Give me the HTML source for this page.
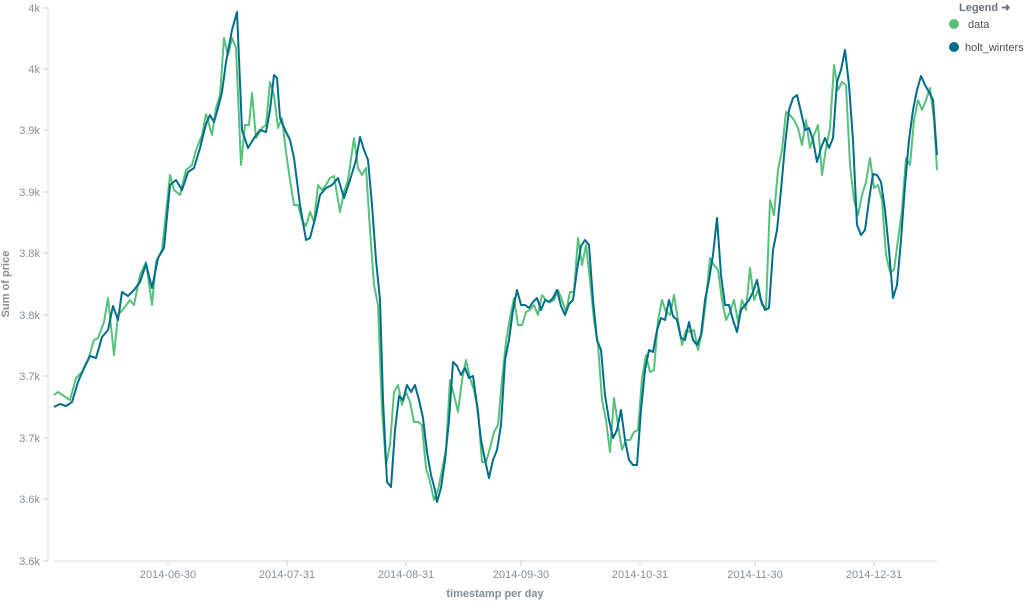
<!DOCTYPE html>
<html><head><meta charset="utf-8"><style>
body{margin:0;background:#fff;font-family:"Liberation Sans",sans-serif;}
svg{display:block}
text{font-family:"Liberation Sans",sans-serif;fill:#848e96;font-size:11px}
</style></head><body>
<svg width="1034" height="610" viewBox="0 0 1034 610">
<line x1="48" y1="8" x2="48" y2="561" stroke="#ddd"/>
<line x1="53" y1="561" x2="937" y2="561" stroke="#ddd"/>
<g stroke="#ccc">
<line x1="43" y1="8" x2="48" y2="8"/><line x1="43" y1="69" x2="48" y2="69"/><line x1="43" y1="130" x2="48" y2="130"/><line x1="43" y1="192" x2="48" y2="192"/><line x1="43" y1="253" x2="48" y2="253"/><line x1="43" y1="315" x2="48" y2="315"/><line x1="43" y1="376" x2="48" y2="376"/><line x1="43" y1="438" x2="48" y2="438"/><line x1="43" y1="499" x2="48" y2="499"/><line x1="43" y1="561" x2="48" y2="561"/>
<line x1="168" y1="561" x2="168" y2="566"/><line x1="287" y1="561" x2="287" y2="566"/><line x1="406" y1="561" x2="406" y2="566"/><line x1="521" y1="561" x2="521" y2="566"/><line x1="640" y1="561" x2="640" y2="566"/><line x1="755" y1="561" x2="755" y2="566"/><line x1="874" y1="561" x2="874" y2="566"/>
</g>
<g text-anchor="end">
<text x="40" y="12">4k</text><text x="40" y="73">4k</text><text x="40" y="134">3.9k</text><text x="40" y="196">3.9k</text><text x="40" y="257">3.8k</text><text x="40" y="319">3.8k</text><text x="40" y="380">3.7k</text><text x="40" y="442">3.7k</text><text x="40" y="503">3.6k</text><text x="40" y="565">3.6k</text>
</g>
<g text-anchor="middle">
<text x="168" y="578">2014-06-30</text><text x="287" y="578">2014-07-31</text><text x="406" y="578">2014-08-31</text><text x="521" y="578">2014-09-30</text><text x="640" y="578">2014-10-31</text><text x="755" y="578">2014-11-30</text><text x="874" y="578">2014-12-31</text>
<text x="495" y="597" font-weight="bold" font-size="12">timestamp per day</text>
<text transform="translate(9,284) rotate(-90)" font-weight="bold" font-size="12">Sum of price</text>
</g>
<polyline fill="none" stroke="#57c17b" stroke-width="2" stroke-linejoin="round" points="54,395 58,392 64,396 70,400 76,378 82,372 88,360 94,340 98,338 104,322 108,298 114,355 118,315 124,308 130,300 134,305 140,275 146,262 152,305 156,262 162,250 170,175 174,190 180,195 186,170 192,165 196,150 202,135 206,114 212,135 216,108 220,95 224,38 228,55 232,38 236,48 241,165 245,125 249,125 252,93 256,138 262,128 266,125 270,82 274,95 278,128 282,118 286,152 290,180 294,205 298,205 302,220 306,226 310,212 314,222 318,185 322,190 326,185 330,178 334,176 340,212 344,192 348,180 354,138 358,168 362,175 366,168 370,230 374,285 378,305 382,410 386,465 390,445 394,392 398,385 402,405 406,392 410,402 414,422 418,422 422,425 426,468 430,482 434,500 438,490 442,470 446,450 450,380 454,395 458,412 462,380 466,360 470,378 474,390 478,410 482,462 486,462 490,448 494,432 498,425 502,380 506,342 510,318 514,298 518,325 522,325 526,312 530,310 534,305 538,315 542,295 546,300 550,302 554,300 558,290 562,300 566,312 570,292 574,292 578,238 582,265 586,245 590,280 594,320 598,345 602,400 606,420 610,452 614,398 618,425 622,450 626,440 630,440 634,432 638,430 642,378 646,355 650,372 654,370 658,320 662,300 666,312 670,315 674,295 678,320 682,345 686,330 690,332 694,330 698,350 702,332 706,300 710,258 714,265 718,270 722,300 726,320 730,312 734,300 738,322 742,300 746,310 750,268 754,300 758,290 762,305 766,308 770,200 774,215 778,170 782,150 786,112 790,115 794,120 798,128 802,145 806,120 810,148 814,135 818,125 822,175 826,148 830,128 834,65 838,90 842,82 846,85 850,165 854,200 858,215 862,195 866,182 870,158 874,188 878,185 882,200 886,255 890,272 894,270 898,240 902,210 906,158 910,165 914,120 918,100 922,110 926,100 930,88 934,120 937,170"/>
<polyline fill="none" stroke="#006e8a" stroke-width="2" stroke-linejoin="round" points="54,407 60,404 66,406 72,402 78,382 84,368 90,356 96,358 102,337 108,330 113,306 118,320 122,292 128,296 134,290 140,282 146,264 152,288 158,258 164,248 170,185 176,180 182,190 188,172 194,168 200,148 206,124 210,115 214,122 218,108 222,92 226,62 232,30 237,12 242,130 248,148 254,138 260,130 266,132 270,110 274,75 277,78 280,118 286,132 290,140 294,158 300,205 306,240 310,238 316,215 320,195 326,188 332,185 338,178 344,198 350,180 356,160 360,137 364,150 368,160 372,205 376,260 380,300 383,400 387,482 391,487 395,430 399,396 403,400 407,385 411,392 415,385 419,400 423,418 427,452 431,475 435,490 437,502 441,488 445,460 449,420 453,362 457,366 461,375 465,368 469,378 473,376 477,405 481,440 485,460 489,478 493,460 497,450 501,425 505,360 509,340 513,310 517,290 521,305 525,305 529,308 533,302 537,298 541,310 545,300 549,302 553,298 557,290 561,306 565,315 569,304 573,300 577,270 581,246 585,240 589,245 593,300 597,340 601,350 605,395 609,420 613,438 617,430 621,410 625,440 629,460 633,465 637,465 641,410 645,370 649,350 653,352 657,330 661,318 665,320 669,300 673,316 677,320 681,338 685,340 689,322 693,340 697,345 701,335 705,300 709,280 713,255 717,218 721,275 725,305 729,305 733,320 737,332 741,310 745,305 749,300 753,292 757,280 761,300 765,310 769,308 773,250 777,230 781,190 785,145 789,110 793,98 797,95 801,112 805,130 809,128 813,140 817,162 821,148 825,138 829,148 833,138 837,82 841,70 845,50 849,85 853,140 857,225 861,235 865,230 869,200 873,174 877,175 881,182 885,210 889,250 893,298 897,285 901,240 905,185 909,140 913,110 917,90 921,76 925,85 929,92 933,100 937,155"/>
<text x="959" y="11" font-weight="bold" font-size="11" style="fill:#6b737b">Legend ➜</text>
<circle cx="954" cy="24" r="5" fill="#57c17b"/>
<text x="968" y="28" style="fill:#4a5056" font-size="13">data</text>
<circle cx="954" cy="47" r="5" fill="#006e8a"/>
<text x="965" y="51" style="fill:#4a5056" font-size="13">holt_winters</text>
</svg>
</body></html>
